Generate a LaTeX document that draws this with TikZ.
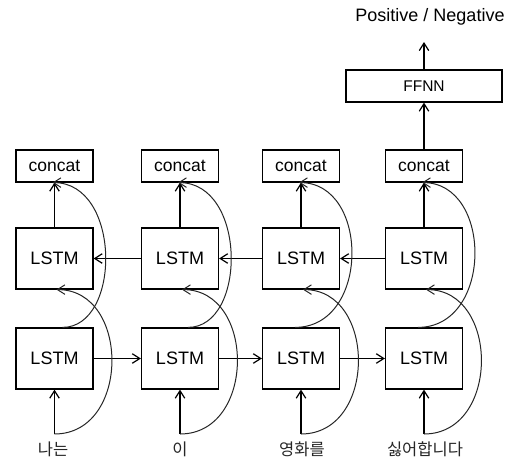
\documentclass[tikz,border=0pt]{standalone}
\usepackage{fontspec}
\setmainfont{Liberation Sans}
\newfontfamily\kofont{Noto Sans CJK KR}
\usetikzlibrary{arrows.meta}
\begin{document}
\begin{tikzpicture}[x=1pt,y=-1pt,
  line width=1.2pt,
  tip/.style={-{Straight Barb[length=7.5pt,width=9.5pt]}},
  skip/.style={tip, line width=1pt, draw=black!85},
  cell/.style={draw, minimum width=77pt, minimum height=61pt, inner sep=0pt,
    font=\fontsize{18}{21}\selectfont},
  catbox/.style={draw, minimum width=77pt, minimum height=32pt, inner sep=0pt,
    font=\fontsize{17.5}{21}\selectfont},
  word/.style={inner sep=0pt, text=black!85, font=\kofont\fontsize{16.5}{19}\selectfont}]

\useasboundingbox (0,0) rectangle (508,463);

% one column per time step: concat on top, backward LSTM, forward LSTM, input
\foreach \i/\cx in {1/54.5, 2/180, 3/301, 4/424} {
  \node[catbox] (cat\i) at (\cx,166) {concat};
  \node[cell] (bw\i) at (\cx,258.5) {LSTM};
  \node[cell] (fw\i) at (\cx,358.5) {LSTM};
  \coordinate (in\i) at (\cx,434);
}

% input words
\node[word] (w1) at (53,449) {나는};
\node[word] (w2) at (180,449) {이};
\node[word] (w3) at (302,449) {영화를};
\node[word] (w4) at (425,449) {싫어합니다};

% classifier head
\node[draw, minimum width=156pt, minimum height=32pt, inner sep=0pt,
  font=\fontsize{15.5}{18}\selectfont] (ffnn) at (424,86) {FFNN};
\node[inner sep=0pt, font=\fontsize{18}{21}\selectfont] (out) at (430,17) {Positive / Negative};
\coordinate (res) at (424,42);
\draw[tip] (cat4.north) -- (ffnn.south);
\draw[tip] (ffnn.north) -- (res);

% forward chain (left to right) and backward chain (right to left)
\draw[tip] (fw1.east) -- (fw2.west);
\draw[tip] (fw2.east) -- (fw3.west);
\draw[tip] (fw3.east) -- (fw4.west);
\draw[tip] (bw2.west) -- (bw1.east);
\draw[tip] (bw3.west) -- (bw2.east);
\draw[tip] (bw4.west) -- (bw3.east);

% per column: inputs into both LSTMs, both LSTM outputs into concat
\foreach \i in {1,2,3,4} {
  \draw[tip] (in\i) -- (fw\i.south);
  \draw[skip] (in\i) .. controls +(76,0) and +(74,0) .. ([xshift=2pt]bw\i.south);
  \draw[tip] (bw\i.north) -- (cat\i.south);
}
\foreach \i/\s/\a/\b in {1/8/59/69, 2/8/59/69, 3/-6/75/71, 4/-6/75/71} {
  \draw[skip] ([xshift=\s pt]fw\i.north) .. controls +(\a,0) and +(\b,0)
    .. ([xshift=-2pt]cat\i.south);
}
\end{tikzpicture}
\end{document}
